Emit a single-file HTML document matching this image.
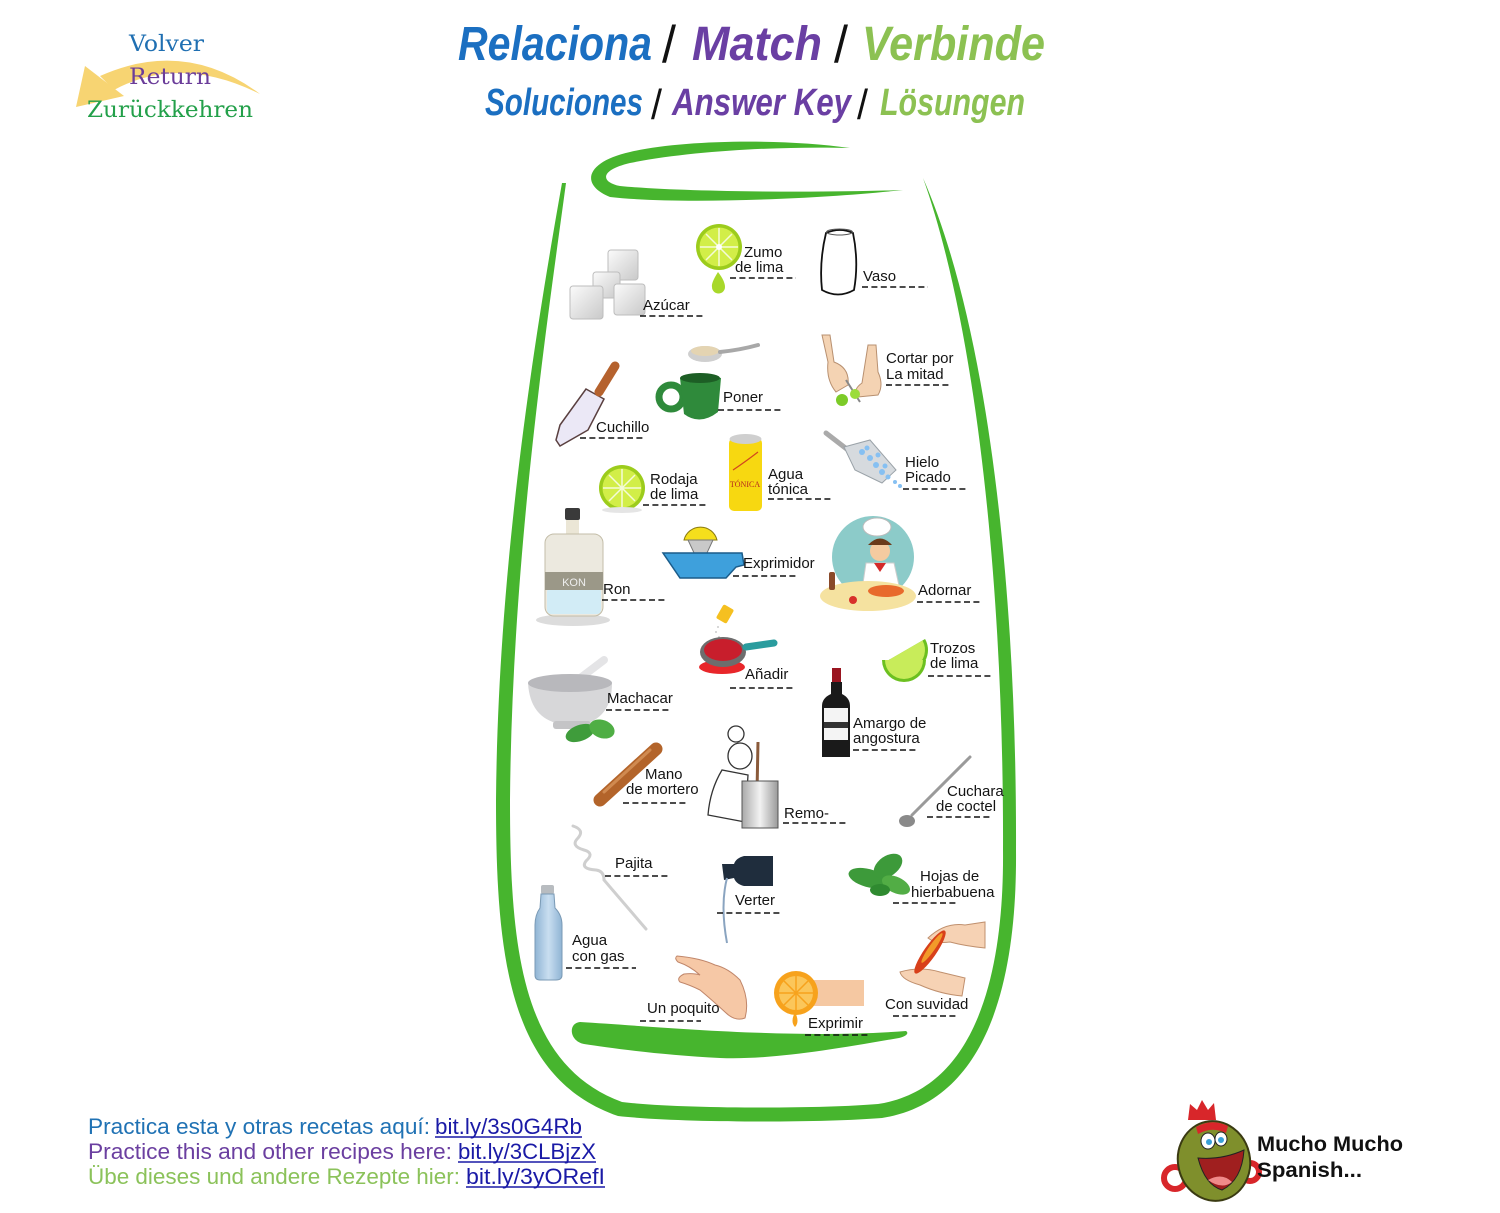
<!DOCTYPE html>
<html><head><meta charset="utf-8"><style>
html,body{margin:0;padding:0;background:#fff;}
body{width:1500px;height:1213px;overflow:hidden;position:relative;}
svg{position:absolute;left:0;top:0;}
.l{font-family:"Liberation Sans",Arial,sans-serif;font-size:15px;fill:#141414;}
.d{stroke:#111;stroke-width:1.6;stroke-dasharray:6 3.4;}
.t{font-family:"Liberation Sans",Arial,sans-serif;font-weight:bold;font-style:italic;}
.sl{font-family:"Liberation Sans",Arial,sans-serif;font-weight:normal;font-style:normal;}
.s{font-family:"DejaVu Serif","Liberation Serif",serif;font-size:22px;}
.b{font-family:"Liberation Sans",Arial,sans-serif;font-size:22px;}
</style></head><body>
<svg width="1500" height="1213" viewBox="0 0 1500 1213" xmlns="http://www.w3.org/2000/svg">
<defs>
<linearGradient id="cube" x1="0" y1="0" x2="1" y2="1"><stop offset="0" stop-color="#fbfbfb"/><stop offset="1" stop-color="#c9c9c9"/></linearGradient>
<linearGradient id="pot" x1="0" y1="0" x2="1" y2="0"><stop offset="0" stop-color="#a9a9a9"/><stop offset=".5" stop-color="#f2f2f2"/><stop offset="1" stop-color="#9a9a9a"/></linearGradient>
<linearGradient id="bot" x1="0" y1="0" x2="1" y2="0"><stop offset="0" stop-color="#8fb4d4"/><stop offset=".5" stop-color="#c9def0"/><stop offset="1" stop-color="#8fb4d4"/></linearGradient>
</defs>

<!-- top-left return -->
<path d="M100 76 Q185 38 260 94 Q180 54 114 90 Z" fill="#f7d472"/>
<polygon points="76,107 85,66 124,96" fill="#f7d472"/>
<text class="s" x="129" y="51" fill="#1f6fb2" textLength="75" lengthAdjust="spacingAndGlyphs">Volver</text>
<text class="s" x="129" y="84" fill="#6b3d9a" textLength="82" lengthAdjust="spacingAndGlyphs">Return</text>
<text class="s" x="87" y="117" fill="#23a04a" textLength="166" lengthAdjust="spacingAndGlyphs">Zurückkehren</text>

<!-- titles -->
<g class="t" font-size="48">
<text x="458" y="60" fill="#1b6fc1" textLength="194" lengthAdjust="spacingAndGlyphs">Relaciona</text>
<text x="692" y="60" fill="#6a3fa3" textLength="130" lengthAdjust="spacingAndGlyphs">Match</text>
<text x="862" y="60" fill="#8cc152" textLength="183" lengthAdjust="spacingAndGlyphs">Verbinde</text>
</g>
<g class="sl" font-size="52" fill="#111">
<text x="662" y="62" textLength="14" lengthAdjust="spacingAndGlyphs">/</text>
<text x="834" y="62" textLength="14" lengthAdjust="spacingAndGlyphs">/</text>
</g>
<g class="t" font-size="38">
<text x="485" y="115" fill="#1b6fc1" textLength="158" lengthAdjust="spacingAndGlyphs">Soluciones</text>
<text x="672" y="115" fill="#6a3fa3" textLength="179" lengthAdjust="spacingAndGlyphs">Answer Key</text>
<text x="880" y="115" fill="#8cc152" textLength="145" lengthAdjust="spacingAndGlyphs">Lösungen</text>
</g>
<g class="sl" font-size="42" fill="#111">
<text x="651" y="119" textLength="11" lengthAdjust="spacingAndGlyphs">/</text>
<text x="857" y="119" textLength="11" lengthAdjust="spacingAndGlyphs">/</text>
</g>

<!-- glass -->
<g fill="#47b52e">
<path d="M562 183 C536 330,498 560,496 800 C496 955,508 1078,618 1116 C680 1123,820 1123,882 1118 C996 1100,1017 962,1016 850 C1017 600,990 330,923 178 C978 332,1004 600,1003 850 C1004 955,984 1088,878 1104 C820 1109,680 1109,622 1102 C522 1065,510 950,510 800 C512 560,546 330,566 183 Z"/>
<path d="M850 148 C780 138,680 140,630 152 C585 162,580 185,610 197 C680 205,820 199,903 190 C820 193,680 192,620 186 C600 182,600 170,630 163 C690 151,780 146,850 148 Z"/>
<path d="M580 1022 C650 1026,790 1040,906 1031 C909 1033,907 1036,899 1038 C830 1050,770 1060,720 1058 C660 1055,610 1048,584 1044 C569 1041,568 1023,580 1022 Z"/>
</g>

<!-- sugar cubes -->
<g stroke="#bdbdbd" stroke-width="1" fill="url(#cube)">
<rect x="608" y="250" width="30" height="30" rx="3"/>
<rect x="593" y="272" width="27" height="26" rx="3"/>
<rect x="614" y="284" width="31" height="31" rx="3"/>
<rect x="570" y="286" width="33" height="33" rx="3"/>
</g>

<!-- lime zumo -->
<g>
<circle cx="719" cy="247" r="23" fill="#9ccc1c"/>
<circle cx="719" cy="247" r="19.5" fill="#d2ee48"/>
<g stroke="#f4fbd8" stroke-width="1.5"><line x1="719" y1="228" x2="719" y2="266"/><line x1="700" y1="247" x2="738" y2="247"/><line x1="706" y1="234" x2="732" y2="260"/><line x1="732" y1="234" x2="706" y2="260"/></g>
<circle cx="719" cy="247" r="3" fill="#fff"/>
<path d="M718 272 Q711 283 712 287 A6.5 6.5 0 0 0 725 287 Q725 281 718 272 Z" fill="#a8d82a"/>
</g>

<!-- vaso -->
<path d="M826 233 Q819 262 822 290 Q838 299 854 290 Q859 262 853 233 Q840 227 826 233 Z" fill="none" stroke="#111" stroke-width="1.8"/>
<ellipse cx="839.5" cy="232" rx="13" ry="3" fill="none" stroke="#555" stroke-width="1"/>

<!-- spoon -->
<ellipse cx="705" cy="354" rx="17" ry="8" fill="#cfcfcf"/>
<ellipse cx="705" cy="351" rx="14" ry="5" fill="#e4d4b2"/>
<path d="M720 352 Q740 350 758 345" stroke="#a8a8a8" stroke-width="4" fill="none" stroke-linecap="round"/>

<!-- mug -->
<ellipse cx="671" cy="397" rx="12" ry="12" fill="none" stroke="#2f8a3b" stroke-width="7"/>
<path d="M680 378 Q700 372 721 378 L718 412 Q700 426 684 414 Z" fill="#2f8a3b"/>
<ellipse cx="700" cy="378" rx="20" ry="5" fill="#1d5e25"/>

<!-- knife -->
<polygon points="586,389 604,399 588,430 560,446 556,440 560,425" fill="#ebe8f6" stroke="#5a4040" stroke-width="1.5"/>
<line x1="599" y1="392" x2="615" y2="366" stroke="#b5622e" stroke-width="9" stroke-linecap="round"/>

<!-- cortar -->
<g fill="#f4d3b3" stroke="#b89070" stroke-width="1">
<path d="M822 335 L830 335 L834 362 Q850 368 848 385 L836 392 Q826 380 828 362 Z"/>
<path d="M868 345 L876 345 L878 372 Q884 385 878 395 L858 397 Q852 390 862 383 Z"/>
</g>
<line x1="846" y1="380" x2="860" y2="402" stroke="#888" stroke-width="2"/>
<circle cx="842" cy="400" r="6" fill="#7ccb28"/><circle cx="855" cy="394" r="5" fill="#9bdc3a"/>

<!-- ice scoop -->
<line x1="826" y1="433" x2="848" y2="450" stroke="#aaa" stroke-width="5" stroke-linecap="round"/>
<polygon points="844,447 870,440 896,470 882,483 855,470" fill="#d6dade" stroke="#9aa2a8"/>
<g fill="#86c0f2"><circle cx="862" cy="452" r="3"/><circle cx="870" cy="458" r="3"/><circle cx="876" cy="465" r="3"/><circle cx="882" cy="472" r="3"/><circle cx="867" cy="448" r="2.5"/><circle cx="878" cy="455" r="2.5"/><circle cx="888" cy="477" r="2.5"/><circle cx="895" cy="482" r="2"/><circle cx="900" cy="486" r="2"/><circle cx="885" cy="466" r="2.5"/></g>

<!-- rodaja -->
<circle cx="622" cy="488" r="23" fill="#9ccc1c"/>
<circle cx="622" cy="488" r="19.5" fill="#d2ee48"/>
<g stroke="#f4fbd8" stroke-width="1.5"><line x1="622" y1="469" x2="622" y2="507"/><line x1="603" y1="488" x2="641" y2="488"/><line x1="609" y1="475" x2="635" y2="501"/><line x1="635" y1="475" x2="609" y2="501"/></g>
<ellipse cx="622" cy="510" rx="20" ry="3" fill="#e5e5e5"/>

<!-- tonic can -->
<rect x="729" y="438" width="33" height="73" rx="5" fill="#f7d811"/>
<ellipse cx="745.5" cy="439" rx="16" ry="5" fill="#cfcfcf"/>
<path d="M733 470 Q745 462 758 452" stroke="#d2461e" stroke-width="1.2" fill="none"/>
<text x="745" y="487" font-family="Liberation Serif,serif" font-size="8" fill="#b5261e" text-anchor="middle">TÓNICA</text>

<!-- ron bottle -->
<ellipse cx="573" cy="620" rx="37" ry="6" fill="#dcdcdc"/>
<rect x="565" y="508" width="15" height="12" rx="2" fill="#3a3a3a"/>
<rect x="566" y="520" width="13" height="16" fill="#ebe6d6"/>
<rect x="545" y="534" width="58" height="82" rx="9" fill="#ece9df" stroke="#c3bda8"/>
<rect x="547" y="588" width="54" height="26" rx="4" fill="#d2ecf6"/>
<rect x="545" y="572" width="58" height="18" fill="#9b9888"/>
<text x="574" y="586" font-family="Liberation Sans,sans-serif" font-size="11" fill="#eee" text-anchor="middle">KON</text>

<!-- juicer -->
<path d="M684 540 A17 17 0 0 1 717 540 Z" fill="#f5df1c" stroke="#8a7a10"/>
<polygon points="688,540 713,540 706,555 695,555" fill="#c9c9c9" stroke="#777"/>
<path d="M663 553 L742 553 L744 565 L736 567 L726 578 L680 578 Z" fill="#3ea0dc" stroke="#1b5c8a" stroke-width="1.5"/>

<!-- chef adornar -->
<circle cx="873" cy="557" r="41" fill="#8ccbc9"/>
<ellipse cx="877" cy="527" rx="14" ry="9" fill="#fff" stroke="#bbb"/>
<circle cx="880" cy="551" r="10" fill="#f5cba0"/>
<path d="M868 545 Q880 532 892 545 Z" fill="#6b3b1b"/>
<path d="M866 563 L894 563 L900 590 L862 590 Z" fill="#fff" stroke="#ccc"/>
<path d="M874 563 L886 563 L880 572 Z" fill="#d42a2a"/>
<ellipse cx="868" cy="596" rx="48" ry="15" fill="#f5e2a0"/>
<ellipse cx="886" cy="591" rx="18" ry="6" fill="#e86a2c"/>
<rect x="829" y="572" width="6" height="18" rx="2" fill="#8a4a2a"/>
<circle cx="853" cy="600" r="4" fill="#d8302a"/>

<!-- salt & pan -->
<rect x="719" y="606" width="12" height="16" rx="2" fill="#f5c020" transform="rotate(30 725 614)"/>
<g fill="#ccc"><circle cx="718" cy="627" r="1"/><circle cx="716" cy="632" r="1"/><circle cx="719" cy="637" r="1"/></g>
<ellipse cx="722" cy="667" rx="23" ry="7" fill="#e8262a"/>
<ellipse cx="723" cy="652" rx="23" ry="15" fill="#6d6d6d"/>
<ellipse cx="723" cy="650" rx="19" ry="11" fill="#c81e2c"/>
<line x1="746" y1="647" x2="774" y2="643" stroke="#2a9c9e" stroke-width="7" stroke-linecap="round"/>

<!-- trozos -->
<g transform="rotate(-30 906 650)"><path d="M884 650 A22 22 0 0 0 928 650 Z" fill="#6cc020"/><path d="M887 650 A19 19 0 0 0 925 650 Z" fill="#c8ec5a"/></g>
<g><path d="M882 660 A22 22 0 0 0 926 660 Z" fill="#6cc020"/><path d="M885 660 A19 19 0 0 0 923 660 Z" fill="#c8ec5a"/></g>

<!-- mortar -->
<line x1="575" y1="682" x2="604" y2="660" stroke="#e4e4e6" stroke-width="8" stroke-linecap="round"/>
<path d="M528 683 Q530 718 560 724 L585 724 Q612 716 612 683 Z" fill="#d7d7d9"/>
<ellipse cx="570" cy="683" rx="42" ry="9" fill="#b8b8bc"/>
<rect x="553" y="721" width="38" height="8" rx="3" fill="#c4c4c6"/>
<ellipse cx="580" cy="733" rx="15" ry="8" fill="#3f9c3b" transform="rotate(-20 580 733)"/>
<ellipse cx="602" cy="729" rx="13" ry="9" fill="#4fae44" transform="rotate(20 602 729)"/>

<!-- bitters -->
<rect x="832" y="668" width="9" height="14" fill="#9a1520"/>
<path d="M831 682 L842 682 L842 694 Q850 698 850 706 L850 757 L822 757 L822 706 Q822 698 831 694 Z" fill="#1a1a1a"/>
<rect x="824" y="708" width="24" height="32" fill="#f4f4f4"/>
<rect x="824" y="722" width="24" height="6" fill="#333"/>

<!-- pestle -->
<line x1="600" y1="800" x2="656" y2="749" stroke="#b3642a" stroke-width="13" stroke-linecap="round"/>
<line x1="604" y1="792" x2="650" y2="750" stroke="#d08a50" stroke-width="3" stroke-linecap="round"/>

<!-- chef with pot -->
<g fill="#fff" stroke="#333" stroke-width="1.3">
<circle cx="736" cy="734" r="8"/>
<ellipse cx="740" cy="756" rx="12" ry="13"/>
<path d="M722 770 Q710 790 708 815 L745 822 L748 775 Z"/>
</g>
<line x1="758" y1="742" x2="757" y2="792" stroke="#8a5a3a" stroke-width="3"/>
<rect x="742" y="781" width="36" height="47" fill="url(#pot)" stroke="#555"/>

<!-- cocktail spoon -->
<line x1="912" y1="815" x2="970" y2="757" stroke="#9a9a9a" stroke-width="3" stroke-linecap="round"/>
<ellipse cx="907" cy="821" rx="8" ry="6" fill="#8a8a8a"/>

<!-- straw -->
<path d="M573 826 Q585 830 578 838 Q570 846 584 850 Q595 853 586 861 Q580 869 596 870 Q604 871 604 880 L646 929" stroke="#cfcfcf" stroke-width="3" fill="none" stroke-linecap="round"/>

<!-- pour bottle -->
<path d="M744 856 L773 856 L773 886 L744 886 Q736 884 734 878 L724 880 L722 864 L734 864 Q736 858 744 856 Z" fill="#1f2d3d"/>
<path d="M727 878 Q720 905 727 943" stroke="#8aa4c0" stroke-width="2" fill="none"/>

<!-- mint hojas -->
<g fill="#3d9a3a">
<ellipse cx="868" cy="878" rx="20" ry="9" transform="rotate(15 868 878)"/>
<ellipse cx="888" cy="866" rx="16" ry="10" transform="rotate(-35 888 866)"/>
<ellipse cx="896" cy="885" rx="15" ry="8" fill="#52ad45" transform="rotate(25 896 885)"/>
<ellipse cx="880" cy="890" rx="10" ry="6" fill="#2f8a30"/>
</g>

<!-- water bottle -->
<rect x="541" y="885" width="13" height="9" rx="2" fill="#b8bcc0"/>
<path d="M541 894 L554 894 L555 908 Q562 915 562 925 L562 975 Q562 980 556 980 L540 980 Q535 980 535 975 L535 925 Q535 915 540 908 Z" fill="url(#bot)" stroke="#7a9ab5"/>

<!-- pinch hand -->
<path d="M677 956 Q700 958 715 965 Q728 968 740 980 Q750 1000 745 1018 Q735 1022 725 1012 Q712 1000 700 990 Q690 985 680 982 Q676 978 684 974 Q694 973 700 975 Q690 966 678 962 Q674 958 677 956 Z" fill="#f6c8a6" stroke="#c0866a" stroke-width="1"/>

<!-- orange squeeze -->
<rect x="808" y="980" width="56" height="26" fill="#f5c8a2"/>
<circle cx="796" cy="993" r="22" fill="#f7a21c"/>
<circle cx="796" cy="993" r="17" fill="#fbc65a"/>
<g stroke="#f7a21c" stroke-width="1.5"><line x1="796" y1="976" x2="796" y2="1010"/><line x1="779" y1="993" x2="813" y2="993"/><line x1="784" y1="981" x2="808" y2="1005"/><line x1="808" y1="981" x2="784" y2="1005"/></g>
<path d="M795 1012 Q790 1022 795 1027 Q800 1022 795 1012 Z" fill="#f7a21c"/>

<!-- feather hands -->
<path d="M928 938 Q945 922 965 925 L985 922 L985 948 Q965 946 950 942 Q935 944 928 938 Z" fill="#f6d2b4" stroke="#c0906e" stroke-width="1"/>
<path d="M900 972 Q920 966 940 972 L965 978 L962 996 Q940 994 920 985 Q902 980 900 972 Z" fill="#f6d2b4" stroke="#c0906e" stroke-width="1"/>
<ellipse cx="930" cy="952" rx="6" ry="26" fill="#d8401a" transform="rotate(35 930 952)"/>
<ellipse cx="932" cy="948" rx="3" ry="18" fill="#f29a2a" transform="rotate(35 932 948)"/>

<!-- labels -->
<g class="l">
<text x="744" y="257">Zumo</text><text x="735" y="272">de lima</text>
<text x="863" y="281">Vaso</text>
<text x="643" y="310">Azúcar</text>
<text x="886" y="363">Cortar por</text><text x="886" y="379">La mitad</text>
<text x="723" y="402">Poner</text>
<text x="596" y="432">Cuchillo</text>
<text x="905" y="467">Hielo</text><text x="905" y="482">Picado</text>
<text x="768" y="479">Agua</text><text x="768" y="494">tónica</text>
<text x="650" y="484">Rodaja</text><text x="650" y="499">de lima</text>
<text x="743" y="568">Exprimidor</text>
<text x="918" y="595">Adornar</text>
<text x="603" y="594">Ron</text>
<text x="930" y="653">Trozos</text><text x="930" y="668">de lima</text>
<text x="745" y="679">Añadir</text>
<text x="607" y="703">Machacar</text>
<text x="853" y="728">Amargo de</text><text x="853" y="743">angostura</text>
<text x="645" y="779">Mano</text><text x="626" y="794">de mortero</text>
<text x="947" y="796">Cuchara</text><text x="936" y="811">de coctel</text>
<text x="784" y="818">Remo-</text>
<text x="615" y="868">Pajita</text>
<text x="920" y="881">Hojas de</text><text x="911" y="897">hierbabuena</text>
<text x="735" y="905">Verter</text>
<text x="572" y="945">Agua</text><text x="572" y="961">con gas</text>
<text x="647" y="1013">Un poquito</text>
<text x="885" y="1009">Con suvidad</text>
<text x="808" y="1028">Exprimir</text>
</g>
<g class="d">
<line x1="730" y1="278" x2="796" y2="278"/>
<line x1="862" y1="287" x2="928" y2="287"/>
<line x1="640" y1="316" x2="705" y2="316"/>
<line x1="886" y1="385" x2="951" y2="385"/>
<line x1="718" y1="410" x2="783" y2="410"/>
<line x1="580" y1="438" x2="645" y2="438"/>
<line x1="903" y1="489" x2="967" y2="489"/>
<line x1="768" y1="499" x2="832" y2="499"/>
<line x1="643" y1="505" x2="707" y2="505"/>
<line x1="733" y1="576" x2="797" y2="576"/>
<line x1="917" y1="602" x2="982" y2="602"/>
<line x1="602" y1="600" x2="667" y2="600"/>
<line x1="928" y1="676" x2="993" y2="676"/>
<line x1="730" y1="688" x2="795" y2="688"/>
<line x1="606" y1="710" x2="671" y2="710"/>
<line x1="853" y1="750" x2="918" y2="750"/>
<line x1="623" y1="803" x2="687" y2="803"/>
<line x1="927" y1="817" x2="992" y2="817"/>
<line x1="783" y1="823" x2="848" y2="823"/>
<line x1="605" y1="876" x2="670" y2="876"/>
<line x1="893" y1="903" x2="957" y2="903"/>
<line x1="717" y1="913" x2="781" y2="913"/>
<line x1="566" y1="968" x2="636" y2="968"/>
<line x1="640" y1="1021" x2="701" y2="1021"/>
<line x1="893" y1="1016" x2="957" y2="1016"/>
<line x1="805" y1="1035" x2="870" y2="1035"/>
</g>

<!-- bottom text -->
<g class="b">
<text x="88" y="1134" fill="#2072b4" textLength="342" lengthAdjust="spacingAndGlyphs">Practica esta y otras recetas aquí:</text>
<text x="435" y="1134" fill="#1a1aa6" textLength="147" lengthAdjust="spacingAndGlyphs">bit.ly/3s0G4Rb</text>
<text x="88" y="1159" fill="#6b3fa0" textLength="364" lengthAdjust="spacingAndGlyphs">Practice this and other recipes here:</text>
<text x="458" y="1159" fill="#1a1aa6" textLength="138" lengthAdjust="spacingAndGlyphs">bit.ly/3CLBjzX</text>
<text x="88" y="1184" fill="#8bc25a" textLength="372" lengthAdjust="spacingAndGlyphs">Übe dieses und andere Rezepte hier:</text>
<text x="466" y="1184" fill="#1a1aa6" textLength="139" lengthAdjust="spacingAndGlyphs">bit.ly/3yORefI</text>
</g>
<g stroke="#1a1aa6" stroke-width="1.5">
<line x1="435" y1="1137" x2="582" y2="1137"/>
<line x1="458" y1="1162" x2="596" y2="1162"/>
<line x1="466" y1="1187" x2="605" y2="1187"/>
</g>

<!-- logo -->
<g>
<circle cx="1175" cy="1178" r="11" fill="none" stroke="#d8262a" stroke-width="6"/>
<circle cx="1250" cy="1172" r="9" fill="none" stroke="#d8262a" stroke-width="6"/>
<path d="M1188 1120 L1190 1104 L1197 1110 L1202 1100 L1208 1110 L1214 1103 L1216 1120 Z" fill="#d8262a"/>
<ellipse cx="1214" cy="1161" rx="36" ry="40" fill="#7f8f2c" stroke="#3a3a12" stroke-width="2" transform="rotate(-12 1214 1161)"/>
<path d="M1196 1127 Q1212 1118 1228 1126 L1226 1133 Q1212 1126 1198 1134 Z" fill="#d8262a"/>
<ellipse cx="1208" cy="1141" rx="7" ry="8" fill="#fff" stroke="#222"/>
<ellipse cx="1221" cy="1139" rx="6" ry="7" fill="#fff" stroke="#222"/>
<circle cx="1209" cy="1142" r="3" fill="#3aa0d8"/><circle cx="1221" cy="1140" r="3" fill="#3aa0d8"/>
<path d="M1198 1158 Q1222 1160 1244 1150 Q1242 1180 1222 1190 Q1205 1185 1198 1158 Z" fill="#a01f1f" stroke="#222"/>
<path d="M1208 1180 Q1222 1172 1232 1182 Q1222 1190 1208 1180 Z" fill="#f08a8a"/>
<text x="1257" y="1151" font-family="Liberation Sans,sans-serif" font-weight="bold" font-size="21" fill="#111" textLength="146" lengthAdjust="spacingAndGlyphs">Mucho Mucho</text>
<text x="1257" y="1177" font-family="Liberation Sans,sans-serif" font-weight="bold" font-size="21" fill="#111" textLength="105" lengthAdjust="spacingAndGlyphs">Spanish...</text>
</g>
</svg>
</body></html>
